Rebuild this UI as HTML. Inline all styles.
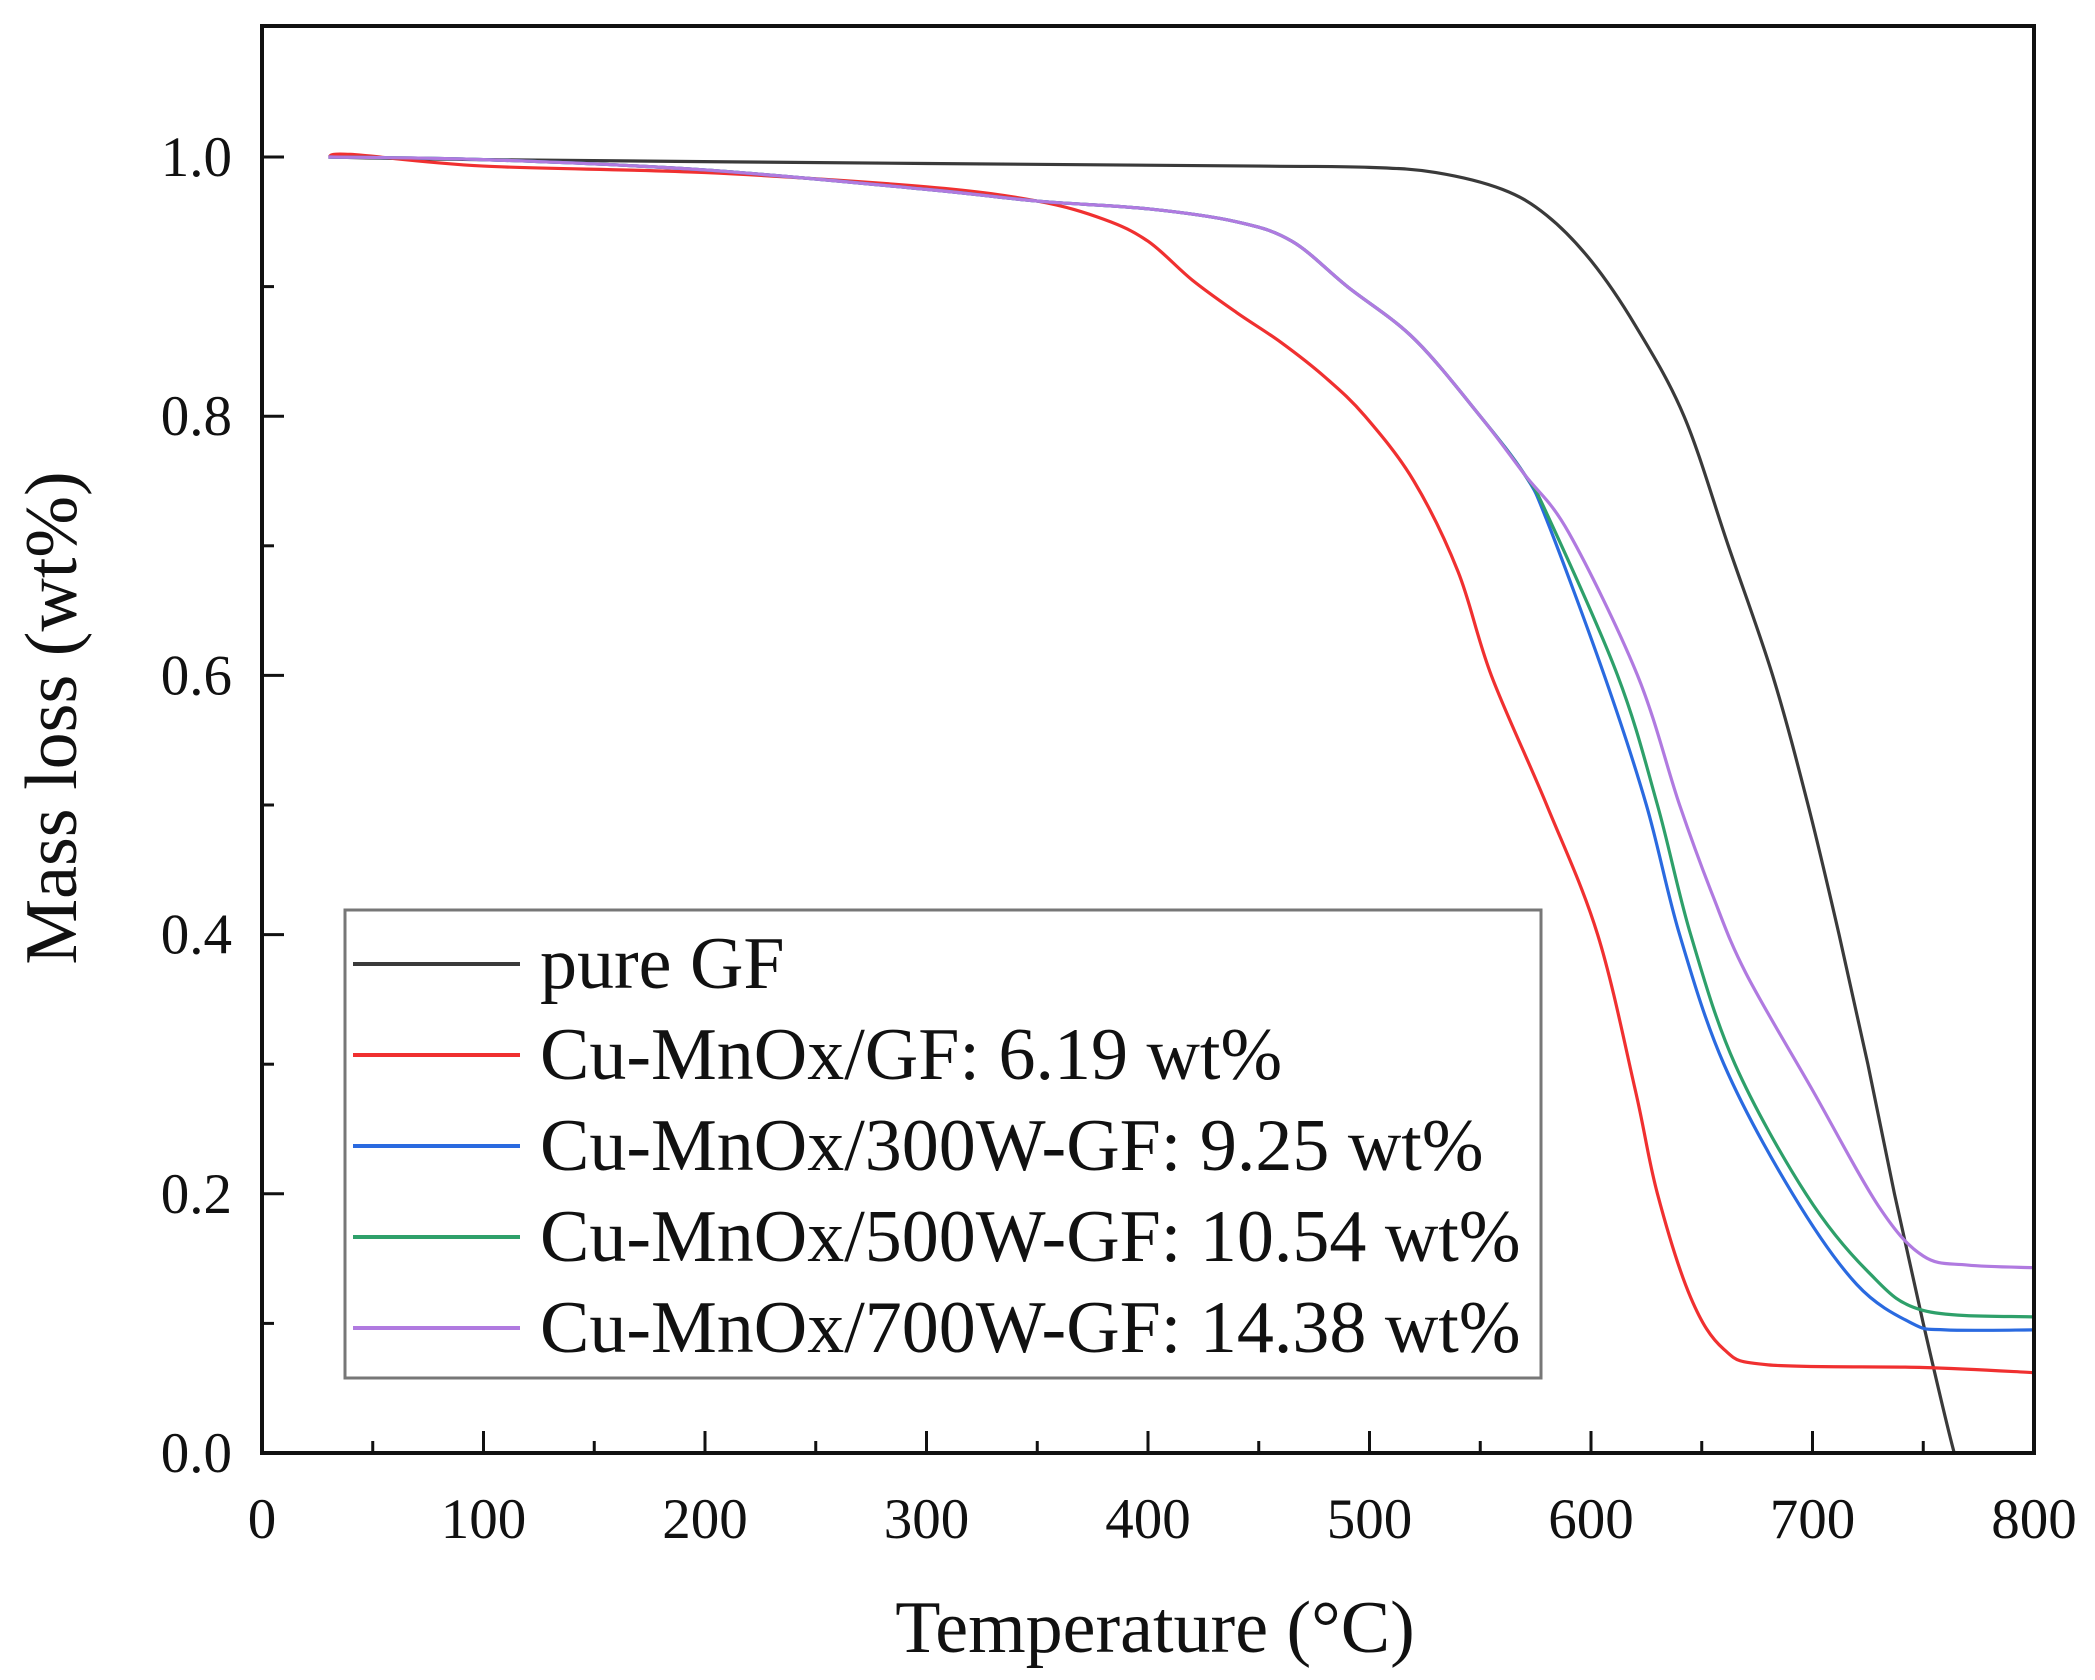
<!DOCTYPE html>
<html><head><meta charset="utf-8"><style>
html,body{margin:0;padding:0;background:#fff;}
svg{display:block;font-family:"Liberation Serif",serif;}
</style></head><body>
<svg id="s" width="2095" height="1680" viewBox="0 0 2095 1680" xmlns="http://www.w3.org/2000/svg">
<rect width="2095" height="1680" fill="#fff"/>
<g id="curves" fill="none" stroke-width="3.2" stroke-linejoin="round"></g>
<rect x="262" y="26" width="1772" height="1427" fill="none" stroke="#111" stroke-width="4"/>
<g id="ticks" stroke="#111" stroke-width="3"></g>
<g id="labels" font-size="57" fill="#111"></g>
<text x="1155" y="1652" font-size="74" text-anchor="middle" fill="#111">Temperature (°C)</text>
<text transform="translate(76,718) rotate(-90)" font-size="74" text-anchor="middle" fill="#111">Mass loss (wt%)</text>
<rect x="345" y="910" width="1196" height="468" fill="#fff" stroke="#777" stroke-width="3"/>
<g font-size="74" fill="#111">
<line x1="353" x2="520" y1="964" y2="964" stroke="#3a3a3a" stroke-width="4"/><text x="540" y="988">pure GF</text>
<line x1="353" x2="520" y1="1055" y2="1055" stroke="#f03030" stroke-width="4"/><text x="540" y="1079">Cu-MnOx/GF: 6.19 wt%</text>
<line x1="353" x2="520" y1="1146" y2="1146" stroke="#2a6ae0" stroke-width="4"/><text x="540" y="1170">Cu-MnOx/300W-GF: 9.25 wt%</text>
<line x1="353" x2="520" y1="1237" y2="1237" stroke="#2ea06a" stroke-width="4"/><text x="540" y="1261">Cu-MnOx/500W-GF: 10.54 wt%</text>
<line x1="353" x2="520" y1="1328" y2="1328" stroke="#b07ae0" stroke-width="4"/><text x="540" y="1352">Cu-MnOx/700W-GF: 14.38 wt%</text>
</g>
</svg>
<script>
const X=t=>262+t*1772/800, Y=m=>1453-m*1296;
const NS="http://www.w3.org/2000/svg";
function el(p,n,a,txt){const e=document.createElementNS(NS,n);for(const k in a)e.setAttribute(k,a[k]);if(txt!==undefined)e.textContent=txt;p.appendChild(e);return e;}
const tk=document.getElementById('ticks'),lb=document.getElementById('labels');
for(let t=0;t<=800;t+=50){const maj=t%100==0;el(tk,'line',{x1:X(t),x2:X(t),y1:1453,y2:1453-(maj?22:12)});if(maj)el(lb,'text',{x:X(t),y:1538,'text-anchor':'middle'},String(t));}
for(let i=0;i<=10;i++){const m=i/10,maj=i%2==0;el(tk,'line',{x1:262,x2:262+(maj?22:12),y1:Y(m),y2:Y(m)});if(maj)el(lb,'text',{x:232,y:Y(m)+19,'text-anchor':'end'},m.toFixed(1));}
const shared=[[30,1],[100,0.998],[200,0.99],[300,0.975],[350,0.966],[400,0.96],[440,0.95],[465,0.935],[490,0.9],[520,0.86],[550,0.8],[570,0.755]];
const D=[
["#3a3a3a",[[30,1],[100,0.998],[300,0.995],[450,0.993],[500,0.992],[530,0.988],[560,0.975],[580,0.955],[600,0.92],[620,0.87],[642,0.8],[662,0.7],[682,0.6],[698,0.5],[712,0.4],[725,0.3],[737,0.2],[750,0.1],[764,0],[766,0],[800,0]]],
["#f03030",[[30,1],[40,1.002],[100,0.993],[200,0.988],[300,0.977],[350,0.966],[380,0.952],[400,0.935],[420,0.905],[440,0.88],[460,0.857],[480,0.83],[498,0.8],[520,0.75],[540,0.68],[555,0.6],[580,0.5],[603,0.4],[620,0.28],[630,0.2],[645,0.12],[660,0.08],[680,0.068],[750,0.066],[800,0.062]]],
["#2a6ae0",shared.concat([[580,0.72],[606,0.6],[625,0.5],[640,0.4],[660,0.3],[691,0.2],[720,0.13],[745,0.1],[760,0.095],[800,0.095]])],
["#2ea06a",shared.concat([[580,0.725],[612,0.6],[630,0.5],[645,0.4],[665,0.3],[697,0.2],[725,0.14],[750,0.11],[800,0.105]])],
["#b07ae0",shared.concat([[590,0.71],[621,0.6],[640,0.5],[655,0.43],[670,0.37],[700,0.28],[730,0.19],[750,0.152],[770,0.145],[800,0.143]])]
];
const g=document.getElementById('curves');
for(const [c,pts] of D){const P=pts.map(p=>[X(p[0]),Y(p[1])]);let d="M"+P[0].join(",");
for(let i=0;i<P.length-1;i++){const p0=P[Math.max(0,i-1)],p1=P[i],p2=P[i+1],p3=P[Math.min(P.length-1,i+2)];
let c1=[p1[0]+(p2[0]-p0[0])/6,p1[1]+(p2[1]-p0[1])/6],c2=[p2[0]-(p3[0]-p1[0])/6,p2[1]-(p3[1]-p1[1])/6];
c1[1]=Math.min(c1[1],Y(0));c2[1]=Math.min(c2[1],Y(0));
d+=` C${c1.join(",")} ${c2.join(",")} ${p2.join(",")}`;}
el(g,'path',{d:d,stroke:c});}
</script>
</body></html>
